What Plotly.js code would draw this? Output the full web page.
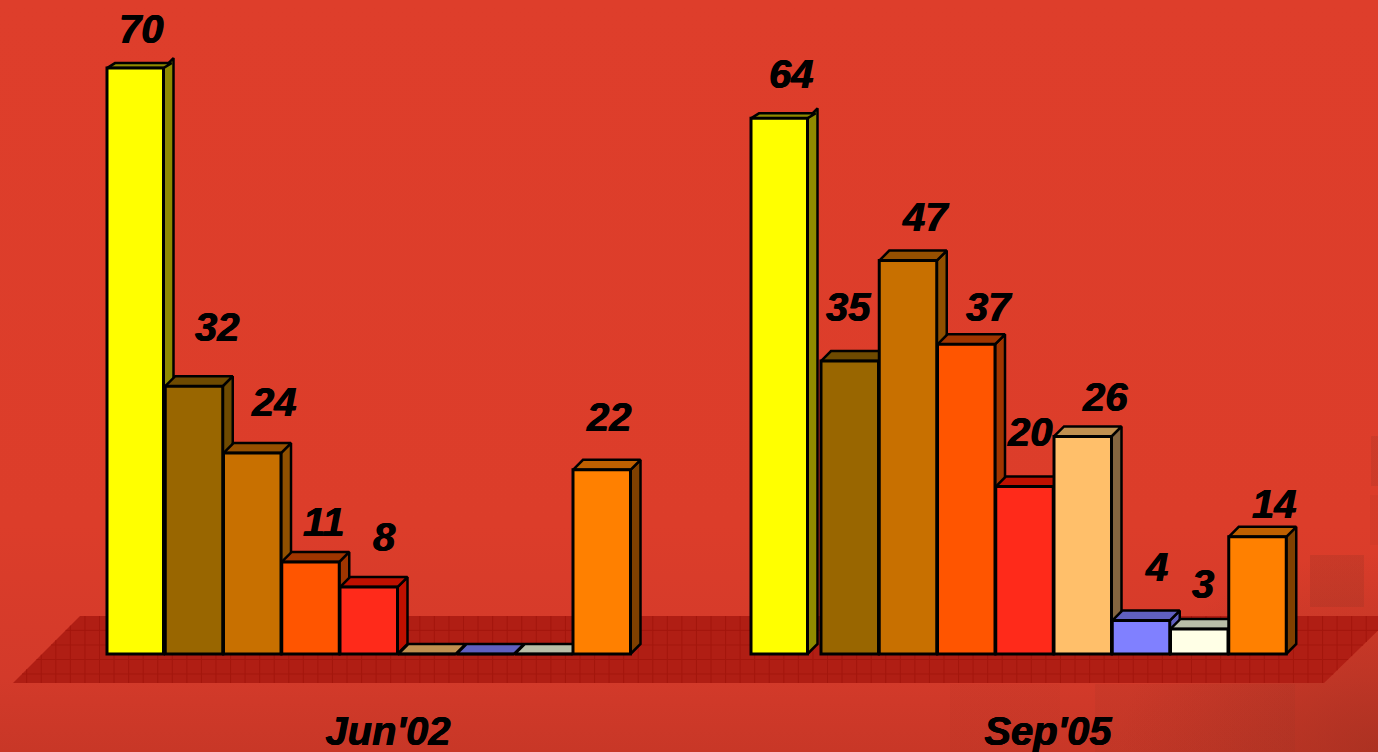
<!DOCTYPE html>
<html>
<head>
<meta charset="utf-8">
<script src="https://cdn.plot.ly/plotly-3.0.1.min.js"></script>
<style>
html,body{margin:0;padding:0;width:1378px;height:752px;overflow:hidden;
background:
 linear-gradient(rgba(150,50,35,.26),rgba(150,50,35,.26)) 1310px 555px/54px 52px no-repeat,
 linear-gradient(rgba(150,50,35,.22),rgba(150,50,35,.22)) 1371px 436px/7px 50px no-repeat,
 linear-gradient(rgba(150,50,35,.10),rgba(150,50,35,.10)) 1370px 495px/8px 50px no-repeat,
 linear-gradient(rgba(150,50,35,.13),rgba(150,50,35,.13)) 1095px 684px/200px 68px no-repeat,
 linear-gradient(rgba(150,50,35,.08),rgba(150,50,35,.08)) 950px 684px/110px 68px no-repeat,
 radial-gradient(260px 200px at 100% 100%,rgba(150,45,30,.55),rgba(150,45,30,0)),
 linear-gradient(180deg,#de3e2b 0%,#dc3d2a 70%,#d33a2a 90%,#c83727 100%);}
#chart{width:1378px;height:752px;}
</style>
</head>
<body>
<div id="chart"></div>
<script>
// ---- data ----
const categories = ["Jun'02", "Sep'05"];
const jun02 = [70, 32, 24, 11, 8, 0, 0, 0, 22];
const sep05 = [64, 35, 47, 37, 20, 26, 4, 3, 14];

// ---- colours per series ----
const frontColors = ['#ffff00','#996600','#c87000','#ff5500','#ff2a1a','#ffbf6a','#8080ff','#ffffe6','#ff8000'];
const topColors   = ['#908a00','#6e4a00','#965000','#a03500','#bf1000','#c09050','#6060c0','#b9bea8','#bf6000'];
const sideColors  = ['#908a00','#6e4a00','#905000','#a03500','#bf1000','#846540','#6060c0','#b9bea8','#804000'];

// ---- layout geometry (axis x unit = 1 px) ----
const W = 1378, H = 752, BASE = 654, PX_PER_UNIT = 8.37, PLOT_BOTTOM = 704;
const SLOT = 58.25, BAR_W = 57.5, DEPTH_X = 10, DEPTH_Y = 10;
const groupLeft = [107, 751];
const groupSlotsFrom = [107, 762.75];
const firstBarWidth = 56.5;
const firstTop = {dx: 8, dy: 5};
const groupCenters = [388, 1048];
const labelShiftX = [[6,23,22,13,16,0,0,0,7],[12.5,-1,17.6,22.4,5,22,15.6,3.4,17]];
const labelShiftY = [[39,59,51,40,50,0,0,0,53],[44,54,44,37,55,39,54,45,33]];
const TEXT_FONT = {family:'"Liberation Sans", Arial, sans-serif', size:40, color:'#000', weight:700, style:'italic',
  shadow:'0.4px 0 0 #000, -0.4px 0 0 #000'};

const pxToVal = y => (BASE - y) / PX_PER_UNIT;
const depthV = DEPTH_Y / PX_PER_UNIT;
const traces = [], annotations = [];

// floor
const FLOOR_TOP = 616, FLOOR_BOT = 683;
const floorX = [13, 80, 1393, 1324, 13];
const floorY = [FLOOR_BOT, FLOOR_TOP, FLOOR_TOP, FLOOR_BOT, FLOOR_BOT].map(pxToVal);
traces.push({type:'scatter',mode:'lines',x:floorX,y:floorY,fill:'toself',fillcolor:'#b01e14',
  line:{width:0,color:'#b01e14'},hoverinfo:'skip',showlegend:false});
const leftEdge = y => 13 + (FLOOR_BOT - y);
const rightEdge = y => 1324 + (FLOOR_BOT - y) * (69/67);
const gx = [], gy = [];
for (let x = 26.7; x < W; x += 14.56) {
  const yTop = x < 80 ? FLOOR_BOT - (x - 13) : FLOOR_TOP;
  const yBot = x > 1324 ? FLOOR_BOT - (x - 1324) * (67/69) : FLOOR_BOT;
  gx.push(x, x, null);
  gy.push(pxToVal(yTop), pxToVal(yBot), null);
}
for (const y of [630.4, 645, 659.5, 674]) {
  gx.push(leftEdge(y), rightEdge(y), null);
  gy.push(pxToVal(y), pxToVal(y), null);
}
traces.push({type:'scatter',mode:'lines',x:gx,y:gy,line:{width:1,color:'#a3160d'},hoverinfo:'skip',showlegend:false});

// bars: side and top faces first, then real bars on an overlay axis
const barX = [], barY = [], barW = [], barC = [];
[jun02, sep05].forEach((vals, g) => {
  vals.forEach((v, i) => {
    const left = i === 0 ? groupLeft[g] : groupSlotsFrom[g] + i * SLOT;
    const w = i === 0 ? firstBarWidth : BAR_W;
    const right = left + w;
    barX.push(left + w / 2); barY.push(v); barW.push(w); barC.push(frontColors[i]);
    if (v > 0) {
      traces.push({type:'scatter',mode:'lines',
        x:[right, right + DEPTH_X, right + DEPTH_X, right, right],
        y:[v, v + depthV, depthV, 0, v],
        fill:'toself',fillcolor:sideColors[i],line:{color:'#000',width:2.5},hoverinfo:'skip',showlegend:false});
    }
    const tdx = i === 0 ? firstTop.dx : DEPTH_X;
    const tdv = i === 0 ? firstTop.dy / PX_PER_UNIT : depthV;
    traces.push({type:'scatter',mode:'lines',
      x:[left, left + tdx, right + tdx, right, left],
      y:[v, v + tdv, v + tdv, v, v],
      fill:'toself',fillcolor:topColors[i],line:{color:'#000',width:2.5},hoverinfo:'skip',showlegend:false});
    if (v > 0) {
      annotations.push({x:left + w / 2, y:v, xref:'x', yref:'y', text:String(v), showarrow:false,
        xanchor:'center', yanchor:'middle', xshift:labelShiftX[g][i], yshift:labelShiftY[g][i],
        font:TEXT_FONT});
    }
  });
});
traces.push({type:'bar',x:barX,y:barY,width:barW,xaxis:'x2',yaxis:'y2',
  marker:{color:barC,line:{color:'#000',width:3}},hoverinfo:'y',showlegend:false});

const xr = [0, W], yr = [pxToVal(PLOT_BOTTOM), pxToVal(0)];
const layout = {
  width:W, height:H, margin:{l:0,r:0,t:0,b:H - PLOT_BOTTOM,pad:0},
  paper_bgcolor:'rgba(0,0,0,0)', plot_bgcolor:'rgba(0,0,0,0)', showlegend:false,
  xaxis:{range:xr,showgrid:false,zeroline:false,showline:false,ticks:'',tickmode:'array',
    tickvals:groupCenters,ticktext:categories,tickfont:TEXT_FONT},
  yaxis:{range:yr,visible:false,showgrid:false,zeroline:false},
  xaxis2:{range:xr,overlaying:'x',visible:false,anchor:'y2'},
  yaxis2:{range:yr,overlaying:'y',visible:false,anchor:'x2',zeroline:false,showgrid:false},
  annotations:annotations,
  bargap:0
};
Plotly.newPlot('chart', traces, layout, {displayModeBar:false, staticPlot:true});
</script>
</body>
</html>
